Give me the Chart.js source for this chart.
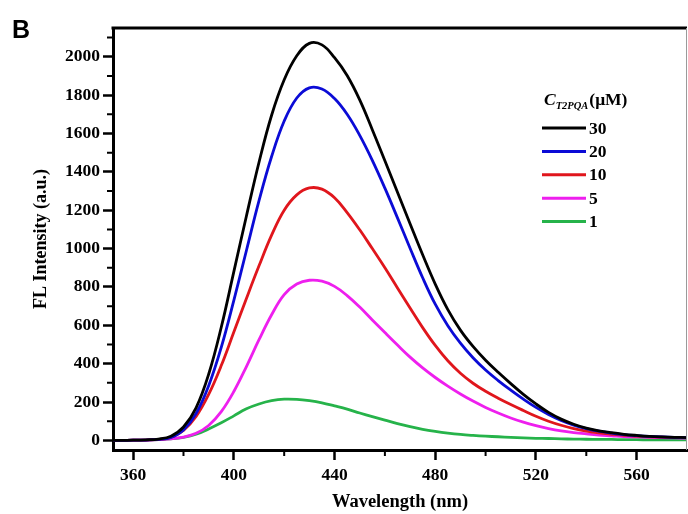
<!DOCTYPE html>
<html>
<head>
<meta charset="utf-8">
<title>FL spectra</title>
<script src="https://cdn.jsdelivr.net/npm/chart.js@4.4.1/dist/chart.umd.min.js"></script>
<style>
  html, body { margin: 0; padding: 0; background: #fff; }
  #wrap { width: 688px; height: 514px; }
</style>
</head>
<body>
<div id="wrap"><canvas id="flChart" width="688" height="514"></canvas></div>
<script>
// --- données (nm / intensité a.u.) ---
const wavelengths = [350, 355, 360, 365, 370, 375, 380, 385, 390, 395,
    400, 405, 410, 415, 420, 425, 430, 435, 440, 445,
    450, 455, 460, 465, 470, 475, 480, 485, 490, 495,
    500, 505, 510, 515, 520, 525, 530, 535, 540, 545,
    550, 555, 560, 565, 570, 575, 580];

const fl30 = [0, 0, 1, 3, 7, 22, 70, 170, 345, 590,
    880, 1170, 1450, 1695, 1880, 2005, 2070, 2062, 1995, 1902,
    1775, 1620, 1458, 1294, 1130, 968, 815, 682, 575, 490,
    418, 355, 296, 240, 190, 146, 111, 84, 64, 50,
    40, 32, 26, 21, 18, 16, 15];
const fl20 = [0, 0, 1, 2, 5, 16, 55, 140, 285, 485,
    730, 990, 1250, 1480, 1665, 1785, 1838, 1832, 1782, 1700,
    1590, 1460, 1315, 1160, 1002, 848, 710, 598, 507, 431,
    367, 312, 262, 215, 172, 135, 104, 80, 62, 48,
    38, 30, 25, 21, 18, 16, 15];
const fl10 = [0, 0, 1, 2, 5, 16, 52, 125, 240, 390,
    565, 740, 910, 1070, 1200, 1280, 1316, 1310, 1265, 1188,
    1098, 1000, 900, 795, 690, 588, 495, 415, 350, 298,
    256, 220, 187, 156, 126, 100, 79, 62, 49, 39,
    32, 26, 22, 19, 17, 15, 14];
const fl5 = [0, 0, 1, 2, 4, 8, 17, 37, 78, 150,
    255, 385, 525, 655, 760, 815, 835, 830, 803, 755,
    695, 628, 562, 497, 434, 378, 328, 283, 242, 205,
    172, 143, 117, 95, 77, 62, 50, 41, 34, 28,
    24, 20, 18, 16, 14, 13, 12];
const fl1 = [0, 0, 1, 2, 4, 8, 16, 32, 60, 92,
    128, 165, 190, 207, 215, 214, 207, 196, 180, 163,
    143, 124, 106, 88, 72, 58, 47, 38, 31, 26,
    22, 19, 16, 13, 11, 10, 8, 7, 6, 5,
    5, 4, 4, 3, 3, 3, 3];

const concLabels = ['30', '20', '10', '5', '1'];
const seriesValues = [fl30, fl20, fl10, fl5, fl1];
const seriesColors = ['#000000', '#0b0bd6', '#e0161c', '#ee1fee', '#26b34a'];

const xMajorTicks = [360, 400, 440, 480, 520, 560];
const xMinorTicks = [380, 420, 460, 500, 540];
const yMajorTicks = [0, 200, 400, 600, 800, 1000, 1200, 1400, 1600, 1800, 2000];
const yMinorTicks = [100, 300, 500, 700, 900, 1100, 1300, 1500, 1700, 1900, 2100];

const SERIF = '"Liberation Serif", "Times New Roman", serif';

const datasets = seriesValues.map((vals, i) => ({
    label: concLabels[i],
    data: wavelengths.map((w, k) => ({ x: w, y: vals[k] })),
    borderColor: seriesColors[i],
    borderWidth: 2.8,
    pointRadius: 0,
    fill: false,
    tension: 0.4
}));

// cadre, petites graduations, légende et lettre "B"
const decorPlugin = {
    id: 'decor',
    afterDraw(chart) {
        const { ctx, chartArea: a, scales } = chart;
        ctx.save();
        // bord haut + droit
        ctx.strokeStyle = '#000';
        ctx.lineWidth = 3;
        ctx.beginPath();
        ctx.moveTo(a.left - 1.5, a.top);
        ctx.lineTo(a.right, a.top);
        ctx.stroke();
        ctx.strokeStyle = '#9a9a9a';
        ctx.lineWidth = 1;
        ctx.beginPath();
        ctx.moveTo(a.right - 0.5, a.top);
        ctx.lineTo(a.right - 0.5, a.bottom);
        ctx.stroke();

        // petites graduations
        ctx.strokeStyle = '#000';
        ctx.lineWidth = 2;
        ctx.beginPath();
        for (const v of xMinorTicks) {
            const px = scales.x.getPixelForValue(v);
            ctx.moveTo(px, a.bottom);
            ctx.lineTo(px, a.bottom + 6);
        }
        for (const v of yMinorTicks) {
            const py = scales.y.getPixelForValue(v);
            ctx.moveTo(a.left, py);
            ctx.lineTo(a.left - 6, py);
        }
        ctx.stroke();

        // légende
        const lx0 = 542, lx1 = 586, ly0 = 128, dy = 23.4;
        ctx.fillStyle = '#000';
        ctx.textBaseline = 'alphabetic';
        ctx.font = 'italic bold 17.5px ' + SERIF;
        ctx.fillText('C', 544, 105);
        let cx = 544 + ctx.measureText('C').width;
        ctx.font = 'italic bold 10.5px ' + SERIF;
        ctx.fillText('T2PQA', cx, 109);
        cx += ctx.measureText('T2PQA').width + 1;
        ctx.font = 'bold 17.5px ' + SERIF;
        ctx.fillText('(\u03bcM)', cx, 105);

        ctx.lineWidth = 3;
        chart.data.datasets.forEach((ds, i) => {
            const y = ly0 + i * dy;
            ctx.strokeStyle = ds.borderColor;
            ctx.beginPath();
            ctx.moveTo(lx0, y);
            ctx.lineTo(lx1, y);
            ctx.stroke();
            ctx.font = 'bold 17.5px ' + SERIF;
            ctx.textBaseline = 'middle';
            ctx.fillText(ds.label, lx1 + 3, y + 1);
        });

        // lettre du panneau
        ctx.textBaseline = 'alphabetic';
        ctx.font = 'bold 25px "Liberation Sans", Arial, sans-serif';
        ctx.fillText('B', 12, 38);
        ctx.restore();
    }
};

const ctx = document.getElementById('flChart').getContext('2d');
new Chart(ctx, {
    type: 'line',
    data: { datasets },
    options: {
        responsive: false,
        animation: false,
        layout: { padding: { top: 28, right: 1, left: 0, bottom: 0 } },
        plugins: { legend: { display: false }, tooltip: { enabled: false } },
        scales: {
            x: {
                type: 'linear', min: 352, max: 580,
                afterBuildTicks: s => { s.ticks = xMajorTicks.map(v => ({ value: v })); },
                afterFit: s => { s.height = 64; },
                grid: { drawOnChartArea: false, tickLength: 10, tickWidth: 2.5, tickColor: '#000' },
                border: { width: 3, color: '#000' },
                ticks: { color: '#000', padding: 5, maxRotation: 0, autoSkip: false,
                         callback: v => String(v),
                         font: { family: SERIF, size: 17.5, weight: 'bold' } },
                title: { display: true, text: 'Wavelength (nm)', color: '#000',
                         font: { family: SERIF, size: 18.5, weight: 'bold' },
                         padding: { top: 0, bottom: 1 } }
            },
            y: {
                type: 'linear', min: -50, max: 2150,
                afterBuildTicks: s => { s.ticks = yMajorTicks.map(v => ({ value: v })); },
                afterFit: s => { s.width = 113; },
                grid: { drawOnChartArea: false, tickLength: 10, tickWidth: 2.5, tickColor: '#000' },
                border: { width: 3, color: '#000' },
                ticks: { color: '#000', padding: 3,
                         callback: v => String(v),
                         font: { family: SERIF, size: 17.5, weight: 'bold' } },
                title: { display: true, text: 'FL Intensity (a.u.)', color: '#000',
                         font: { family: SERIF, size: 18, weight: 'bold' },
                         padding: { top: 31, bottom: 0 } }
            }
        }
    },
    plugins: [decorPlugin]
});
</script>
</body>
</html>
